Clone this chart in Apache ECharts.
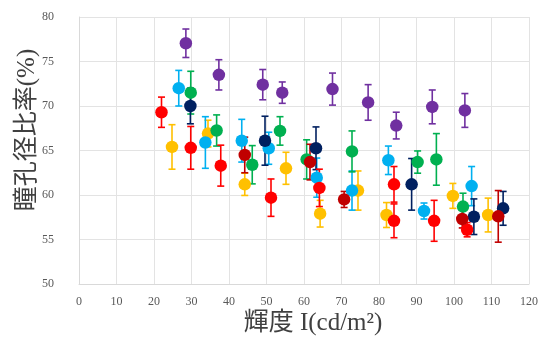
<!DOCTYPE html>
<html><head><meta charset="utf-8">
<script src="https://cdn.jsdelivr.net/npm/echarts@6/dist/echarts.min.js"></script>
<style>html,body{margin:0;padding:0;background:#fff}#c{width:541px;height:342px}</style>
</head><body><div id="c"></div>
<script>
// [x, y, error]
const red = [[22.0,69.3,1.7],[29.8,65.3,2.4],[37.8,63.3,2.3],[51.2,59.7,2.1],[64.1,60.8,2.1],[84.0,61.2,2.0],[84.0,57.1,1.9],[94.7,57.1,2.3],[103.5,56.1,0.8]];
const darkRed = [[44.2,64.5,2.0],[61.6,63.7,2.0],[70.7,59.5,0.9],[102.2,57.3,1.0],[111.8,57.6,2.9]];
const orange = [[24.8,65.4,2.5],[34.4,66.9,1.5],[44.2,61.2,1.25],[55.2,63.0,1.8],[64.3,57.9,1.5],[74.4,60.5,2.2],[82.0,57.75,1.4],[99.7,59.9,1.4],[109.1,57.75,1.9]];
const cyan = [[26.6,72.0,2.0],[33.7,65.9,2.9],[43.4,66.1,2.4],[50.6,65.25,1.8],[63.4,61.95,2.2],[72.8,60.5,2.2],[82.5,63.9,1.6],[92.0,58.2,0.9],[104.7,61.0,2.2]];
const navy = [[29.7,70.0,2.0],[49.6,66.1,2.75],[63.2,65.25,2.4],[88.7,61.2,2.9],[105.3,57.56,2.0],[113.1,58.5,1.9]];
const green = [[29.8,71.5,2.4],[36.7,67.25,1.75],[46.2,63.4,2.15],[53.6,67.2,1.6],[60.7,64.0,2.2],[72.8,64.9,2.3],[90.3,63.7,1.25],[95.3,64.0,2.9],[102.4,58.7,1.5]];
const purple = [[28.5,77.05,1.6],[37.3,73.5,1.7],[49.0,72.4,1.7],[54.2,71.5,1.2],[67.6,71.9,1.8],[77.1,70.4,2.0],[84.6,67.8,1.5],[94.2,69.9,1.9],[102.9,69.5,1.9]];
const xTicks = {min:0,max:120,interval:10};
const yTicks = {min:50,max:80,interval:5};

const groups = [
  {data:orange,color:'#FFC000'},
  {data:cyan,color:'#00B0F0'},
  {data:green,color:'#00B050'},
  {data:navy,color:'#002060'},
  {data:purple,color:'#7030A0'},
  {data:red,color:'#FF0000'},
  {data:darkRed,color:'#C00000'}
];

function errSeries(g){
  return {
    type:'custom', data:g.data, z:2,
    renderItem:function(params,api){
      const x=api.value(0), y=api.value(1), e=api.value(2);
      const hi=api.coord([x,y+e]), lo=api.coord([x,y-e]);
      const w=3.5;
      const st={stroke:g.color,lineWidth:1.6};
      return {type:'group',children:[
        {type:'line',shape:{x1:hi[0],y1:hi[1],x2:lo[0],y2:lo[1]},style:st},
        {type:'line',shape:{x1:hi[0]-w,y1:hi[1],x2:hi[0]+w,y2:hi[1]},style:st},
        {type:'line',shape:{x1:lo[0]-w,y1:lo[1],x2:lo[0]+w,y2:lo[1]},style:st}
      ]};
    }
  };
}
function dotSeries(g){
  return {type:'scatter',data:g.data.map(d=>[d[0],d[1]]),symbolSize:12.5,z:3,
    itemStyle:{color:g.color,opacity:1}};
}
const series=[];
groups.forEach(g=>{series.push(errSeries(g));series.push(dotSeries(g));});

const serif='"Liberation Serif","Noto Sans CJK JP",serif';
const chart=echarts.init(document.getElementById('c'),null,{renderer:'canvas'});
chart.setOption({
  animation:false,
  backgroundColor:'#fff',
  grid:{left:79,right:11,top:17,bottom:58},
  xAxis:{type:'value',min:xTicks.min,max:xTicks.max,interval:xTicks.interval,
    axisLine:{show:true,lineStyle:{color:'#D9D9D9'}},axisTick:{show:false},
    splitLine:{show:true,lineStyle:{color:'#E3E3E3'}},
    axisLabel:{color:'#595959',fontFamily:serif,fontSize:12,margin:12}},
  yAxis:{type:'value',min:yTicks.min,max:yTicks.max,interval:yTicks.interval,
    axisLine:{show:true,lineStyle:{color:'#D9D9D9'}},axisTick:{show:false},
    splitLine:{show:true,lineStyle:{color:'#E3E3E3'}},
    axisLabel:{color:'#595959',fontFamily:serif,fontSize:12,margin:25}},
  graphic:[
    {type:'text',x:313,y:323,style:{text:'輝度 I(cd/m²)',fill:'#404040',font:'25px '+serif,textAlign:'center',textVerticalAlign:'middle'}},
    {type:'text',x:27,y:130,rotation:Math.PI/2,style:{text:'瞳孔径比率(%)',fill:'#404040',font:'25px '+serif,textAlign:'center',textVerticalAlign:'middle'}}
  ],
  series:series
});
</script></body></html>
